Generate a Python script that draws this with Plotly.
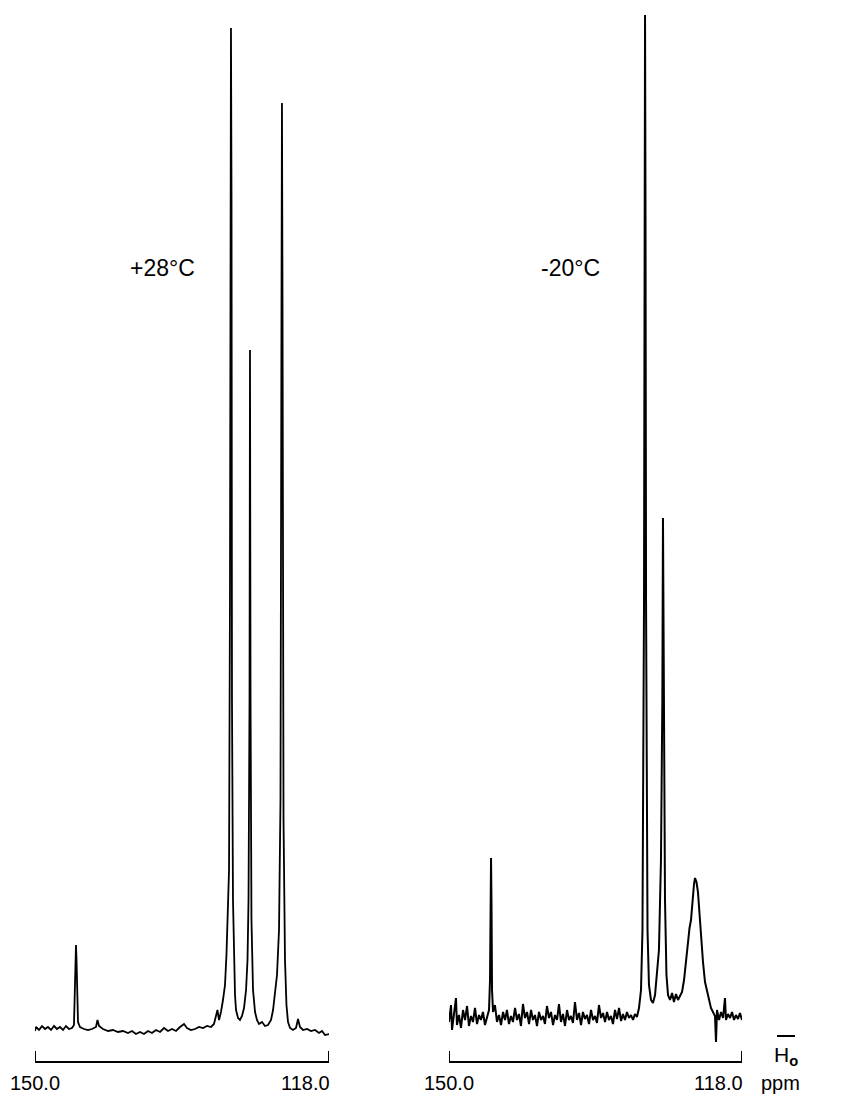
import plotly.graph_objects as go

# ---- Left spectrum (+28 °C): chemical shift (ppm) and intensity (arb. units) ----
ppm_28 = [150.00, 149.89, 149.56, 149.24, 148.91, 148.59, 148.26, 147.93, 147.61, 147.28,
          146.95, 146.63, 146.30, 145.97, 145.76, 145.59, 145.54, 145.48, 145.32, 145.10,
          144.67, 144.23, 143.80, 143.36, 143.20, 143.03, 142.60, 142.05, 141.51, 140.97,
          140.42, 139.88, 139.44, 139.01, 138.57, 138.14, 137.70, 137.27, 136.83, 136.39,
          135.96, 135.52, 135.09, 134.65, 134.22, 133.78, 133.46, 133.02, 132.58, 132.15,
          131.71, 131.28, 130.84, 130.52, 130.30, 130.14, 129.97, 129.76, 129.54, 129.32,
          129.16, 128.99, 128.88, 128.78, 128.72, 128.67, 128.61, 128.56, 128.45, 128.34,
          128.23, 128.12, 127.90, 127.69, 127.47, 127.25, 127.03, 126.87, 126.76, 126.65,
          126.60, 126.54, 126.44, 126.27, 126.05, 125.84, 125.62, 125.29, 124.97, 124.64,
          124.31, 124.09, 123.88, 123.66, 123.44, 123.28, 123.17, 123.12, 123.06, 122.95,
          122.79, 122.63, 122.46, 122.24, 121.92, 121.59, 121.37, 121.16, 120.83, 120.39,
          119.96, 119.52, 119.09, 118.76, 118.44, 118.00]
int_28 = [30, 34, 31, 35, 32, 34, 31, 35, 32, 34,
          31, 35, 32, 33, 36, 101, 116, 101, 39, 34,
          32, 31, 32, 34, 41, 35, 32, 30, 31, 29,
          30, 28, 30, 27, 29, 27, 30, 28, 31, 29,
          33, 30, 32, 30, 34, 37, 33, 31, 32, 34,
          33, 35, 34, 37, 45, 51, 41, 49, 61, 76,
          106, 161, 191, 461, 861, 1033, 861, 361, 161, 101,
          66, 51, 43, 41, 45, 53, 71, 101, 161, 361,
          711, 361, 141, 71, 49, 41, 37, 39, 35, 36,
          41, 51, 66, 86, 131, 261, 761, 958, 761, 241,
          101, 56, 39, 33, 31, 33, 42, 34, 31, 32,
          30, 31, 28, 30, 26, 27]

# ---- Right spectrum (-20 °C) ----
ppm_m20 = [150.00, 149.78, 149.67, 149.45, 149.24, 149.13, 148.91, 148.69, 148.47, 148.25,
           148.03, 147.82, 147.60, 147.38, 147.16, 146.94, 146.72, 146.51, 146.29, 146.07,
           145.85, 145.63, 145.52, 145.47, 145.41, 145.36, 145.30, 145.19, 144.98, 144.76,
           144.54, 144.32, 144.10, 143.88, 143.67, 143.45, 143.23, 143.01, 142.79, 142.57,
           142.36, 142.14, 141.92, 141.70, 141.48, 141.26, 141.04, 140.83, 140.61, 140.39,
           140.17, 139.95, 139.73, 139.52, 139.30, 139.08, 138.86, 138.64, 138.42, 138.20,
           137.99, 137.77, 137.55, 137.33, 137.11, 136.89, 136.68, 136.46, 136.24, 136.02,
           135.80, 135.58, 135.37, 135.15, 134.93, 134.71, 134.49, 134.27, 134.05, 133.84,
           133.62, 133.40, 133.18, 132.96, 132.74, 132.53, 132.31, 132.09, 131.87, 131.65,
           131.43, 131.21, 131.00, 130.78, 130.56, 130.34, 130.12, 129.90, 129.69, 129.47,
           129.25, 129.03, 128.87, 128.70, 128.65, 128.59, 128.54, 128.48, 128.32, 128.16,
           127.94, 127.72, 127.50, 127.28, 127.07, 126.85, 126.70, 126.63, 126.55, 126.41,
           126.25, 126.08, 125.86, 125.64, 125.43, 125.21, 124.99, 124.77, 124.55, 124.33,
           124.12, 123.90, 123.73, 123.57, 123.41, 123.24, 123.13, 122.97, 122.81, 122.64,
           122.48, 122.26, 122.04, 121.82, 121.60, 121.39, 121.17, 120.95, 120.84, 120.73,
           120.51, 120.29, 120.07, 119.86, 119.75, 119.53, 119.31, 119.09, 118.87, 118.66,
           118.44, 118.22, 118.00]
int_m20 = [39, 56, 31, 49, 63, 36, 46, 33, 51, 41,
           55, 35, 45, 39, 53, 37, 46, 41, 49, 36,
           45, 51, 81, 161, 203, 161, 71, 49, 56, 39,
           46, 36, 49, 41, 51, 37, 45, 39, 53, 41,
           47, 35, 57, 43, 49, 37, 51, 41, 46, 35,
           49, 41, 45, 37, 55, 43, 49, 36, 46, 41,
           57, 39, 47, 35, 51, 41, 45, 38, 59, 41,
           48, 36, 49, 42, 46, 37, 51, 41, 45, 38,
           56, 43, 48, 39, 49, 41, 45, 37, 51, 42,
           53, 40, 47, 41, 49, 43, 46, 41, 47, 44,
           53, 71, 131, 461, 861, 1046, 861, 461, 131, 76,
           61, 58, 66, 86, 111, 201, 361, 543, 361, 161,
           86, 66, 61, 68, 59, 67, 61, 65, 69, 81,
           99, 121, 133, 141, 161, 177, 183, 179, 169, 146,
           121, 99, 79, 69, 61, 53, 49, 45, 19, 51,
           41, 49, 43, 63, 41, 47, 43, 49, 41, 46,
           42, 48, 41]

scale_ends = [150.0, 118.0]
scale_labels = ["150.0", "118.0"]
temps = ["+28°C", "-20°C"]
temp_pos = [136.1, 136.7]   # ppm position of the temperature labels

W, H = 851, 1102
OFF = 8            # page body margin of the html page
FONT = "Liberation Sans"
bar_px = 1061


def px(v):
    return (v - OFF) / W


def py(v):
    return 1 - (v - OFF) / H


fig = go.Figure()
fig.add_trace(go.Scatter(x=ppm_28, y=int_28, mode="lines",
                         line=dict(color="black", width=1.8), xaxis="x", yaxis="y",
                         showlegend=False, hoverinfo="skip"))
fig.add_trace(go.Scatter(x=ppm_m20, y=int_m20, mode="lines",
                         line=dict(color="black", width=2.0), xaxis="x2", yaxis="y2",
                         showlegend=False, hoverinfo="skip"))

xax = dict(range=[150, 118], showgrid=False, zeroline=False, showline=True,
           linecolor="black", linewidth=2, ticks="", showticklabels=False)
yax = dict(range=[0, bar_px - OFF], domain=[py(bar_px), 1],
           visible=False, showgrid=False, zeroline=False)

fig.update_layout(
    width=W, height=H, margin=dict(l=0, r=0, t=0, b=0),
    paper_bgcolor="white", plot_bgcolor="white",
    xaxis=dict(domain=[px(35), px(329)], anchor="y", **xax),
    xaxis2=dict(domain=[px(449), px(742)], anchor="y2", **xax),
    yaxis=dict(anchor="x", **yax),
    yaxis2=dict(anchor="x2", **yax),
)

# end ticks of the scale bars
for xr in ["x", "x2"]:
    for v in scale_ends:
        fig.add_shape(type="line", xref=xr, yref="paper", x0=v, x1=v,
                      y0=py(bar_px), y1=py(bar_px - 10),
                      line=dict(color="black", width=2))

ann = []
for xr in ["x", "x2"]:
    for v, t in zip(scale_ends, scale_labels):
        ann.append(dict(x=v, y=py(1083), xref=xr, yref="paper", text=t, showarrow=False,
                        xanchor="center" if v == 150.0 else "right", yanchor="middle",
                        xshift=0 if v == 150.0 else 3,
                        font=dict(family=FONT, size=20, color="black")))
for xr, t, p in zip(["x", "x2"], temps, temp_pos):
    ann.append(dict(x=p, y=py(268), xref=xr, yref="paper", text=t, showarrow=False,
                    xanchor="center", yanchor="middle",
                    font=dict(family=FONT, size=23, color="black")))
ann.append(dict(x=px(780), y=py(1083), xref="paper", yref="paper", text="ppm",
                showarrow=False, xanchor="center", yanchor="middle",
                font=dict(family=FONT, size=20, color="black")))
ann.append(dict(x=px(786), y=py(1056), xref="paper", yref="paper",
                text="H<sub><b>o</b></sub>", showarrow=False, xanchor="center",
                yanchor="middle", font=dict(family=FONT, size=21, color="black")))
fig.update_layout(annotations=ann)
fig.add_shape(type="line", xref="paper", yref="paper",
              x0=px(777), x1=px(795), y0=py(1036), y1=py(1036),
              line=dict(color="black", width=2))

fig.write_html("out.html")
